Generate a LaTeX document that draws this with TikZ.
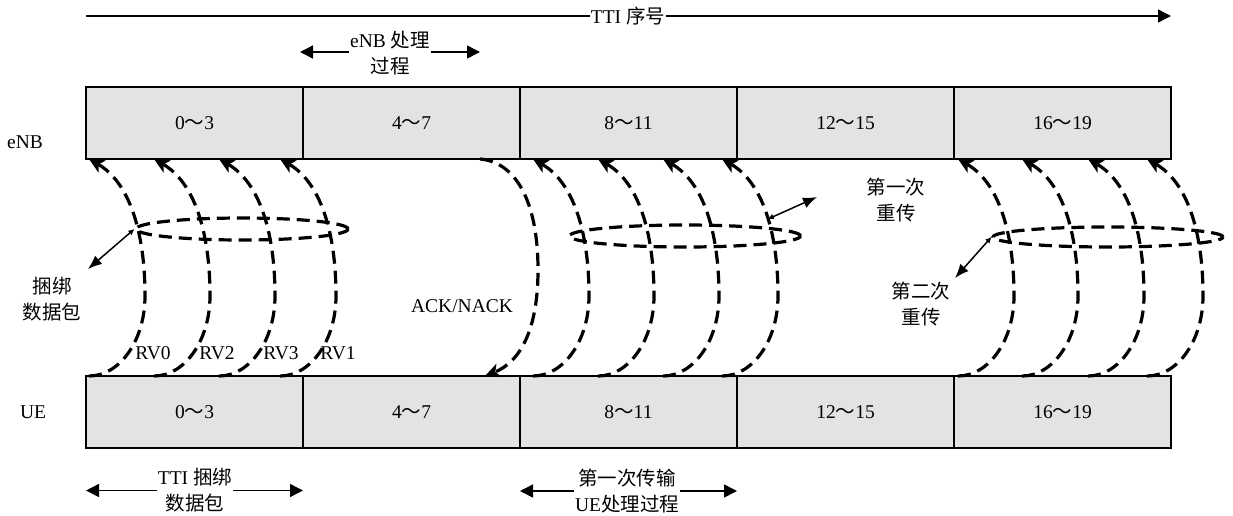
\documentclass[tikz,border=0pt]{standalone}
\usepackage{fontspec}
\setmainfont{Liberation Serif}
\newfontfamily\cjk{Noto Sans CJK SC}
\usetikzlibrary{arrows.meta,shapes.geometric}
\definecolor{cellgray}{RGB}{227,227,227}
\newcommand\tld{{\cjk ～}}
\newcommand\rvarc[2]{\draw[dasharc] (#1) .. controls +(31,0) and +(0,44) .. ++(56,-80) .. controls +(0,-65) and +(40,23) .. (#2);}
\tikzset{
 cell/.style={draw, line width=1.3pt, fill=cellgray, minimum width=217pt, minimum height=72pt, inner sep=0pt, outer sep=0pt, font=\fontsize{19.5}{26}\selectfont},
 lbl/.style={inner sep=1pt, align=center, font=\fontsize{19.5}{26}\selectfont},
 dasharc/.style={line width=3.2pt, dash pattern=on 13pt off 7pt, -{Stealth[length=15pt,width=14pt,inset=4pt]}},
 ring/.style={ellipse, draw, line width=3.2pt, dash pattern=on 13pt off 7pt, inner sep=0pt},
 dimarr/.style={line width=1.5pt, -{Triangle[length=13pt,width=13pt]}},
 ptr/.style={line width=1.5pt, {Latex[length=6pt,width=6pt]}-{Latex[length=14pt,width=11pt]}},
}
\begin{document}
\begin{tikzpicture}[x=1pt,y=-1pt]
\useasboundingbox (0,0) rectangle (1233,515);
% cells
\node[cell] (e1) at (194.5,123) {0\tld3};
\node[cell] (e2) at (411.5,123) {4\tld7};
\node[cell] (e3) at (628.5,123) {8\tld11};
\node[cell] (e4) at (845.5,123) {12\tld15};
\node[cell] (e5) at (1062.5,123) {16\tld19};
\node[cell] (u1) at (194.5,412) {0\tld3};
\node[cell] (u2) at (411.5,412) {4\tld7};
\node[cell] (u3) at (628.5,412) {8\tld11};
\node[cell] (u4) at (845.5,412) {12\tld15};
\node[cell] (u5) at (1062.5,412) {16\tld19};
\node[lbl] (enb) at (25,142) {eNB};
\node[lbl] (ue) at (33,412) {UE};
% TTI axis
\node[lbl, inner sep=0.5pt] (tti) at (628,16) {TTI {\cjk 序号}};
\coordinate (ttiL) at (86,16);
\coordinate (ttiR) at (1171,16);
\draw[line width=1.5pt] (ttiL) -- (tti.west);
\draw[dimarr] (tti.east) -- (ttiR);
% eNB processing
\node[lbl] (proc) at (390,53.5) {eNB {\cjk 处理}\\{\cjk 过程}};
\coordinate (procL) at (300,52);
\coordinate (procR) at (480,52);
\draw[dimarr] (proc.west |- procL) -- (procL);
\draw[dimarr] (proc.east |- procR) -- (procR);
% bottom dimension labels
\node[lbl] (bundle) at (195,490.5) {TTI {\cjk 捆绑}\\{\cjk 数据包}};
\draw[dimarr] (bundle.west) -- (bundle.west -| u1.west);
\draw[dimarr] (bundle.east) -- (bundle.east -| u1.east);
\node[lbl] (first) at (627,491) {{\cjk 第一次传输}\\UE{\cjk 处理过程}};
\draw[dimarr] (first.west) -- (first.west -| u3.west);
\draw[dimarr] (first.east) -- (first.east -| u3.east);
% rings
\node[ring, minimum width=212pt, minimum height=22pt] (ring1) at (242,229) {};
\node[ring, minimum width=231pt, minimum height=22pt] (ring2) at (685,236) {};
\node[ring, minimum width=230pt, minimum height=20pt] (ring3) at (1108,237) {};
% group 1
\rvarc{[xshift=3pt]u1.north west}{[xshift=3pt]e1.south west}
\rvarc{[xshift=68pt]u1.north west}{[xshift=68pt]e1.south west}
\rvarc{[xshift=133pt]u1.north west}{[xshift=133pt]e1.south west}
\rvarc{[xshift=194pt]u1.north west}{[xshift=194pt]e1.south west}
% group 2
\rvarc{[xshift=13pt]u3.north west}{[xshift=13pt]e3.south west}
\rvarc{[xshift=78pt]u3.north west}{[xshift=78pt]e3.south west}
\rvarc{[xshift=143pt]u3.north west}{[xshift=143pt]e3.south west}
\rvarc{[xshift=202pt]u3.north west}{[xshift=202pt]e3.south west}
% group 3
\rvarc{[xshift=4pt]u5.north west}{[xshift=4pt]e5.south west}
\rvarc{[xshift=68pt]u5.north west}{[xshift=68pt]e5.south west}
\rvarc{[xshift=134pt]u5.north west}{[xshift=134pt]e5.south west}
\rvarc{[xshift=193pt]u5.north west}{[xshift=193pt]e5.south west}
% ACK/NACK
\draw[dasharc] ([xshift=-40pt]e2.south east) .. controls +(35,3) and +(0,-70) .. ++(58,111) .. controls +(0,60) and +(35,-14) .. ([xshift=-35pt]u2.north east);
\node[lbl] (ack) at (462,306) {ACK/NACK};
% RV labels
\node[lbl] (rv0) at (153,353) {RV0};
\node[lbl] (rv2) at (217,353) {RV2};
\node[lbl] (rv3) at (281,353) {RV3};
\node[lbl] (rv1) at (338,353) {RV1};
% pointers
\node[lbl] (bl) at (52,299) {{\cjk 捆绑}\\{\cjk 数据包}};
\node[lbl] (re1) at (896,200) {{\cjk 第一次}\\{\cjk 重传}};
\node[lbl] (re2) at (921,304) {{\cjk 第二次}\\{\cjk 重传}};
\coordinate (p1) at (88,269);
\coordinate (p2) at (817,197);
\coordinate (p3) at (955,278);
\draw[ptr] (ring1.west) -- (p1);
\draw[ptr] ([yshift=8pt]ring2.north east) -- (p2);
\draw[ptr] (ring3.west) -- (p3);
\end{tikzpicture}
\end{document}
